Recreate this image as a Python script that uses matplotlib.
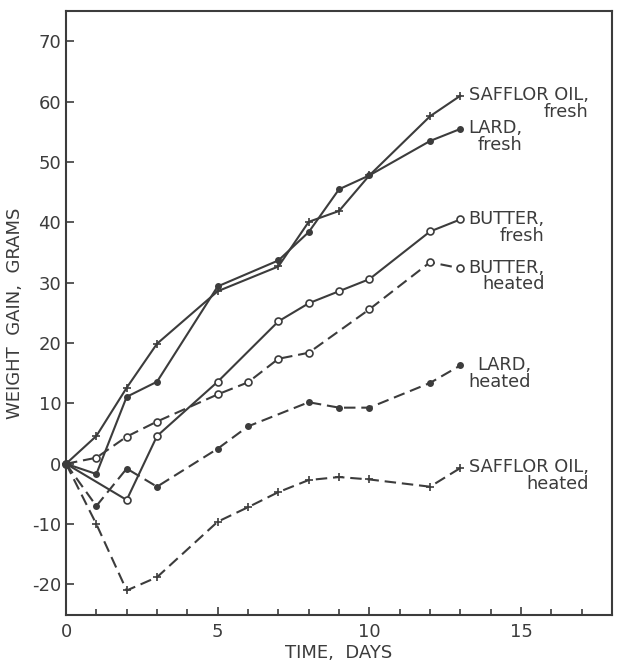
import matplotlib
matplotlib.use("Agg")
import matplotlib.pyplot as plt
from matplotlib.ticker import MultipleLocator

# Data
saff_fresh_x = [0, 1, 2, 3, 5, 7, 8, 9, 10, 12, 13]
saff_fresh_y = [0, 4.6, 12.6, 19.9, 28.6, 32.7, 40.1, 41.9, 47.8, 57.6, 61.0]

lard_fresh_x = [0, 1, 2, 3, 5, 7, 8, 9, 10, 12, 13]
lard_fresh_y = [0, -1.7, 11.1, 13.6, 29.4, 33.7, 38.4, 45.5, 47.8, 53.5, 55.5]

butter_fresh_x = [0, 2, 3, 5, 7, 8, 9, 10, 12, 13]
butter_fresh_y = [0, -6.0, 4.6, 13.6, 23.6, 26.6, 28.6, 30.6, 38.5, 40.5]

butter_heat_x = [0, 1, 2, 3, 5, 6, 7, 8, 10, 12, 13]
butter_heat_y = [0, 1.0, 4.5, 7.0, 11.5, 13.5, 17.4, 18.4, 25.6, 33.4, 32.4]

lard_heat_x = [0, 1, 2, 3, 5, 6, 8, 9, 10, 12, 13]
lard_heat_y = [0, -7.0, -0.8, -3.8, 2.5, 6.2, 10.2, 9.3, 9.3, 13.4, 16.3]

saff_heat_x = [0, 1, 2, 3, 5, 6, 7, 8, 9, 10, 12, 13]
saff_heat_y = [0, -10.0, -21.0, -18.8, -9.6, -7.2, -4.7, -2.7, -2.2, -2.6, -3.8, -0.7]

labels = ["SAFFLOR OIL,\nfresh", "LARD,\nfresh", "BUTTER,\nfresh",
          "BUTTER,\nheated", "LARD,\nheated", "SAFFLOR OIL,\nheated"]

C = "#3c3c3c"
plt.rcParams['font.family'] = ['DejaVu Sans']
plt.rcParams['axes.unicode_minus'] = False

fig = plt.figure(figsize=(6.17, 6.63), dpi=100)
ax = fig.add_axes([0.107, 0.073, 0.885, 0.91])

dash = (0, (5.5, 2.8))
series = [
    (saff_fresh_x, saff_fresh_y, '-', '+', C, 6),
    (lard_fresh_x, lard_fresh_y, '-', 'o', C, 3.8),
    (butter_fresh_x, butter_fresh_y, '-', 'o', 'white', 5),
    (butter_heat_x, butter_heat_y, dash, 'o', 'white', 5),
    (lard_heat_x, lard_heat_y, dash, 'o', C, 3.8),
    (saff_heat_x, saff_heat_y, dash, '+', C, 6),
]
for (x, y, ls, mk, fc, ms), lab in zip(series, labels):
    ax.plot(x, y, linestyle=ls, color=C, lw=1.5, marker=mk, markersize=ms,
            markerfacecolor=fc, markeredgecolor=C, markeredgewidth=1.2,
            clip_on=False)
    ax.annotate(lab, xy=(x[-1], y[-1]), xytext=(6, 7), textcoords='offset points',
                ha='left', va='top', multialignment='right', fontsize=12.8,
                color=C, linespacing=0.92)

ax.set_xlim(0, 18)
ax.set_ylim(-25, 75)
ax.xaxis.set_major_locator(MultipleLocator(5))
ax.xaxis.set_minor_locator(MultipleLocator(1))
ax.set_yticks(range(-20, 71, 10))
ax.tick_params(axis='both', which='major', direction='in', length=6, width=1.2,
               colors=C, labelsize=13, labelcolor=C)
ax.tick_params(axis='x', which='minor', direction='in', length=4, width=1.2, colors=C)
ax.tick_params(axis='x', pad=6)
for s in ax.spines.values():
    s.set_linewidth(1.5)
    s.set_color(C)

ax.set_xlabel("TIME,  DAYS", fontsize=13, color=C, labelpad=2)
ax.set_ylabel("WEIGHT  GAIN,  GRAMS", fontsize=13, color=C, labelpad=6)

fig.savefig("out.png", dpi=100)
